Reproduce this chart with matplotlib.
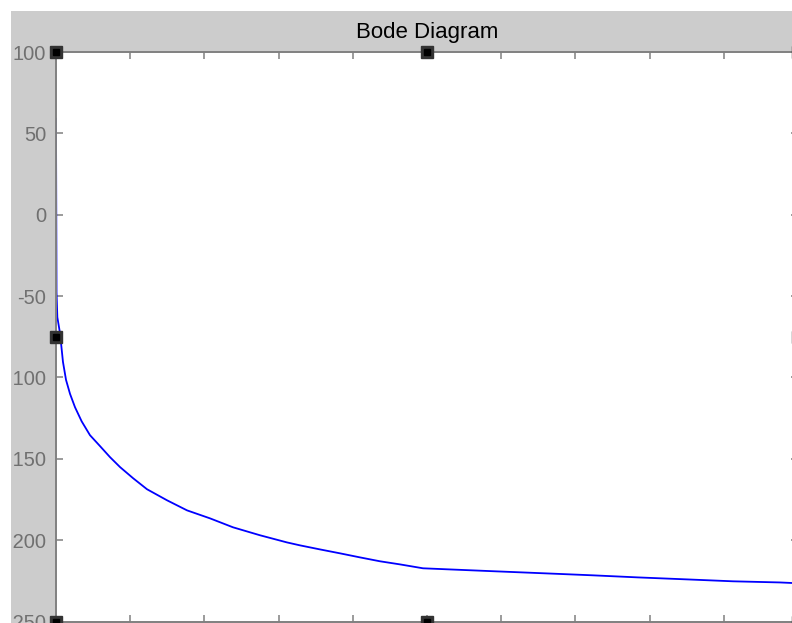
import numpy as np
import matplotlib
matplotlib.use("Agg")
import matplotlib.pyplot as plt
from matplotlib.patches import Rectangle
from matplotlib.transforms import Bbox, TransformedBbox

plt.rcParams['font.family'] = ['Liberation Sans', 'DejaVu Sans']
plt.rcParams['axes.unicode_minus'] = False

# curve (x in axis units 0..10, phase in degrees)
freq = [0.0, 0.007, 0.018, 0.054, 0.094, 0.135, 0.189, 0.256, 0.346, 0.458,
        0.593, 0.728, 0.863, 1.038, 1.226, 1.496, 1.766, 2.075, 2.385, 2.749,
        3.113, 3.288, 3.558, 3.827, 4.097, 4.367, 4.636, 4.946, 5.310, 5.943,
        6.590, 7.224, 7.844, 8.491, 9.124, 9.757, 10.0]
phase = [59.0, -47.6, -63.0, -72.8, -90.5, -101.5, -110.1, -118.3, -127.0, -135.5,
         -142.2, -149.0, -155.1, -161.9, -168.7, -175.5, -181.7, -186.6, -192.1, -197.0,
         -201.4, -203.2, -205.7, -208.1, -210.6, -213.0, -214.9, -217.3, -218.0, -219.2,
         -220.4, -221.6, -222.9, -224.1, -225.3, -226.0, -226.5]

x_ticks = np.arange(0, 11, 1)
y_ticks = [100, 50, 0, -50, -100, -150, -200, -250]

W, H = 792, 623
fig = plt.figure(figsize=(W / 100, H / 100), dpi=100, facecolor='white')

# gray window area (white strip on top and left)
fig.patches.append(Rectangle((11 / W, 0), 1 - 11 / W, 1 - 11 / H,
                             transform=fig.transFigure, facecolor='#cccccc',
                             edgecolor='none', zorder=-10))

ax = fig.add_axes([56 / W, 1 - 621.5 / H, 742 / W, 569.5 / H])
ax.set_facecolor('white')
ax.plot(freq, phase, color='#0000ff', lw=1.3)

ax.set_xlim(0, 10)
ax.set_ylim(-250, 100)
ax.set_xticks(x_ticks)
ax.set_yticks(y_ticks)
ax.set_yticklabels([str(v) for v in y_ticks])
ax.tick_params(direction='in', length=5, width=1.1, color='#808080',
               top=True, right=True, labelbottom=False,
               labelsize=14.5, labelcolor='#707070', pad=7)
for sp in ax.spines.values():
    sp.set_color('#808080')
    sp.set_linewidth(1.4)

ax.set_title('Bode Diagram', fontsize=16, color='black', pad=10)

# labels cut off at the window's left edge
clip = TransformedBbox(Bbox.from_extents(12.5 / W, 0, 1, 1), fig.transFigure)
for lab in ax.get_yticklabels():
    lab.set_clip_box(clip)
    lab.set_clip_on(True)

# selection handles
hx = [0, 5, 10, 0, 5, 10, 0, 10]
hy = [100, 100, 100, -250, -250, -250, -75, -75]
ax.plot(hx, hy, ls='none', marker='s', markersize=9, color='#333333',
        clip_on=False, zorder=5)
ax.plot(hx, hy, ls='none', marker='s', markersize=4, color='black',
        clip_on=False, zorder=6)

fig.savefig('out.png', dpi=100, facecolor=fig.get_facecolor())
